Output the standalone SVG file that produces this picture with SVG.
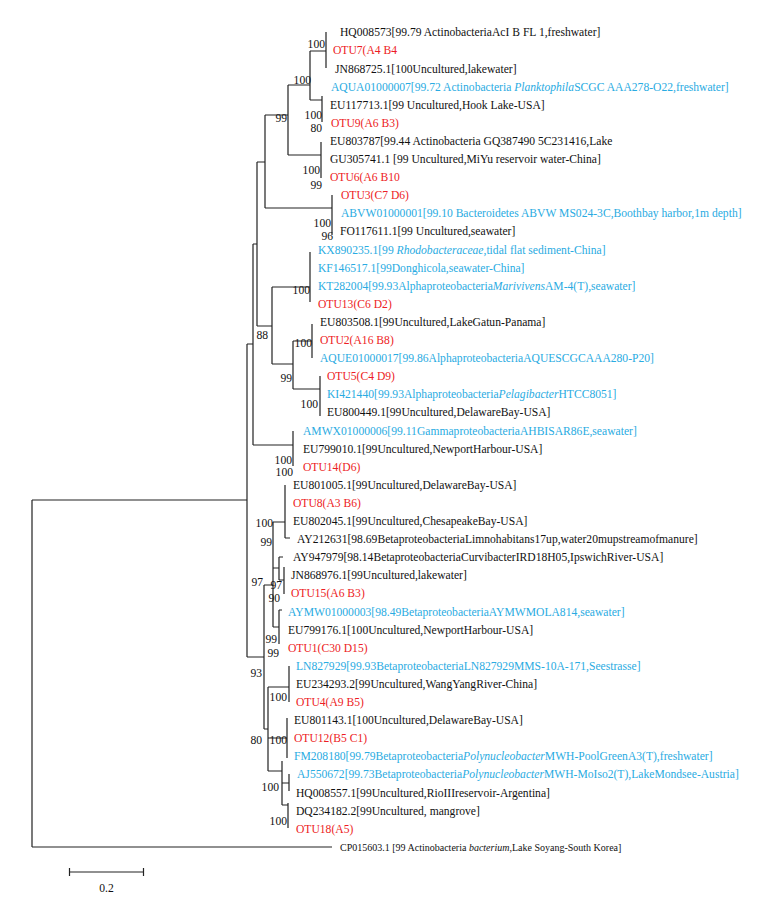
<svg xmlns="http://www.w3.org/2000/svg" width="765" height="899" viewBox="0 0 765 899">
<style>
text{font-family:"Liberation Serif","Times New Roman",serif;font-size:11.6px;fill:#111}
.r{fill:#ED1C24}
.b{fill:#29ABE2}
.i{font-style:italic}
.bs{text-anchor:end}
.sm{font-size:10px}
#tree path{fill:none;stroke:#222;stroke-width:1.2}
</style>
<rect width="765" height="899" fill="#fff"/>
<g id="tree">
<path d="M32 500V847M32 500H247M32 847H332"/>
<path d="M326 32V68M310 51H326"/>
<path d="M310 51V100M288 85H310"/>
<path d="M322 96V122M310 100H322"/>
<path d="M288 85V155M265 115H288"/>
<path d="M321 142V178M288 155H321"/>
<path d="M265 115V208M257 162H265"/>
<path d="M332 195V235M265 208H332"/>
<path d="M257 162V326M253 244H257"/>
<path d="M310 252V302M272 287H310"/>
<path d="M272 287V364M257 326H272"/>
<path d="M312 324V358M293 341H312"/>
<path d="M293 341V389M272 364H293"/>
<path d="M320 376V416M293 389H320"/>
<path d="M253 244V445M247 344H253"/>
<path d="M293 431V466M253 445H293"/>
<path d="M247 344V657"/>
<path d="M264 585V729M247 657H264"/>
<path d="M273 522V627M264 585H273"/>
<path d="M285 485V538M273 522H285M285 538H290"/>
<path d="M279 557V580M279 557H283M273 568H279"/>
<path d="M284 567V594M279 580H284"/>
<path d="M279 610V644M279 610H282M273 627H279"/>
<path d="M268 687V771M264 729H268"/>
<path d="M289 666V702M268 687H289"/>
<path d="M287 718V758M268 738H287"/>
<path d="M282 761V805M268 771H282"/>
<path d="M289 774V791M282 783H289"/>
<path d="M288 803V828M282 805H288"/>
</g>
<g id="bootstrap" class="bs">
<text class="bs" x="325" y="48">100</text>
<text class="bs" x="311" y="84">100</text>
<text class="bs" x="287" y="122">99</text>
<text class="bs" x="322" y="119">100</text>
<text class="bs" x="322" y="132">80</text>
<text class="bs" x="320" y="174">100</text>
<text class="bs" x="322" y="189">99</text>
<text class="bs" x="331" y="227">100</text>
<text class="bs" x="333" y="240">96</text>
<text class="bs" x="310" y="294">100</text>
<text class="bs" x="268" y="339">88</text>
<text class="bs" x="312" y="347">100</text>
<text class="bs" x="292" y="382">99</text>
<text class="bs" x="318" y="408">100</text>
<text class="bs" x="292" y="464">100</text>
<text class="bs" x="293" y="476">100</text>
<text class="bs" x="273" y="527">100</text>
<text class="bs" x="272" y="546">99</text>
<text class="bs" x="263" y="586">97</text>
<text class="bs" x="282" y="589">97</text>
<text class="bs" x="280" y="602">90</text>
<text class="bs" x="277" y="643">99</text>
<text class="bs" x="279" y="657">99</text>
<text class="bs" x="262" y="677">93</text>
<text class="bs" x="287" y="701">100</text>
<text class="bs" x="262" y="744">80</text>
<text class="bs" x="287" y="744">100</text>
<text class="bs" x="279" y="791">100</text>
<text class="bs" x="287" y="825">100</text>
</g>
<g id="n1"><text x="340" y="36.3">HQ008573[99.79 ActinobacteriaAcI B FL 1,freshwater]</text></g>
<g id="n2"><text class="r" x="333" y="54.4">OTU7(A4 B4</text></g>
<g id="n3"><text x="335" y="72.5">JN868725.1[100Uncultured,lakewater]</text></g>
<g id="n4"><text class="b" x="331" y="90.6">AQUA01000007[99.72 Actinobacteria <tspan class="i">Planktophila</tspan>SCGC AAA278-O22,freshwater]</text></g>
<g id="n5"><text x="330" y="108.7">EU117713.1[99 Uncultured,Hook Lake-USA]</text></g>
<g id="n6"><text class="r" x="331" y="126.8">OTU9(A6 B3)</text></g>
<g id="n7"><text x="330" y="144.9">EU803787[99.44 Actinobacteria GQ387490 5C231416,Lake</text></g>
<g id="n8"><text x="330" y="163">GU305741.1 [99 Uncultured,MiYu reservoir water-China]</text></g>
<g id="n9"><text class="r" x="330" y="181.1">OTU6(A6 B10</text></g>
<g id="n10"><text class="r" x="341" y="199.2">OTU3(C7 D6)</text></g>
<g id="n11"><text class="b" x="341" y="217.3">ABVW01000001[99.10 Bacteroidetes ABVW MS024-3C,Boothbay harbor,1m depth]</text></g>
<g id="n12"><text x="340" y="235.4">FO117611.1[99 Uncultured,seawater]</text></g>
<g id="n13"><text class="b" x="318" y="253.5">KX890235.1[99 <tspan class="i">Rhodobacteraceae</tspan>,tidal flat sediment-China]</text></g>
<g id="n14"><text class="b" x="318" y="271.6">KF146517.1[99Donghicola,seawater-China]</text></g>
<g id="n15"><text class="b" x="318" y="289.7">KT282004[99.93Alphaproteobacteria<tspan class="i">Marivivens</tspan>AM-4(T),seawater]</text></g>
<g id="n16"><text class="r" x="318" y="307.8">OTU13(C6 D2)</text></g>
<g id="n17"><text x="320" y="325.9">EU803508.1[99Uncultured,LakeGatun-Panama]</text></g>
<g id="n18"><text class="r" x="320" y="344">OTU2(A16 B8)</text></g>
<g id="n19"><text class="b" x="320" y="362.1">AQUE01000017[99.86AlphaproteobacteriaAQUESCGCAAA280-P20]</text></g>
<g id="n20"><text class="r" x="327" y="380.2">OTU5(C4 D9)</text></g>
<g id="n21"><text class="b" x="327" y="398.3">KI421440[99.93Alphaproteobacteria<tspan class="i">Pelagibacter</tspan>HTCC8051]</text></g>
<g id="n22"><text x="327" y="416.4">EU800449.1[99Uncultured,DelawareBay-USA]</text></g>
<g id="n23"><text class="b" x="303" y="434.5">AMWX01000006[99.11GammaproteobacteriaAHBISAR86E,seawater]</text></g>
<g id="n24"><text x="303" y="452.6">EU799010.1[99Uncultured,NewportHarbour-USA]</text></g>
<g id="n25"><text class="r" x="303" y="470.7">OTU14(D6)</text></g>
<g id="n26"><text x="293" y="488.8">EU801005.1[99Uncultured,DelawareBay-USA]</text></g>
<g id="n27"><text class="r" x="293" y="506.9">OTU8(A3 B6)</text></g>
<g id="n28"><text x="293" y="525">EU802045.1[99Uncultured,ChesapeakeBay-USA]</text></g>
<g id="n29"><text x="297" y="543.1">AY212631[98.69BetaproteobacteriaLimnohabitans17up,water20mupstreamofmanure]</text></g>
<g id="n30"><text x="293" y="561.2">AY947979[98.14BetaproteobacteriaCurvibacterIRD18H05,IpswichRiver-USA]</text></g>
<g id="n31"><text x="291" y="579.3">JN868976.1[99Uncultured,lakewater]</text></g>
<g id="n32"><text class="r" x="291" y="597.4">OTU15(A6 B3)</text></g>
<g id="n33"><text class="b" x="288" y="615.5">AYMW01000003[98.49BetaproteobacteriaAYMWMOLA814,seawater]</text></g>
<g id="n34"><text x="288" y="633.6">EU799176.1[100Uncultured,NewportHarbour-USA]</text></g>
<g id="n35"><text class="r" x="288" y="651.7">OTU1(C30 D15)</text></g>
<g id="n36"><text class="b" x="296" y="669.8">LN827929[99.93BetaproteobacteriaLN827929MMS-10A-171,Seestrasse]</text></g>
<g id="n37"><text x="296" y="687.9">EU234293.2[99Uncultured,WangYangRiver-China]</text></g>
<g id="n38"><text class="r" x="296" y="706">OTU4(A9 B5)</text></g>
<g id="n39"><text x="294" y="724.1">EU801143.1[100Uncultured,DelawareBay-USA]</text></g>
<g id="n40"><text class="r" x="294" y="742.2">OTU12(B5 C1)</text></g>
<g id="n41"><text class="b" x="294" y="760.3">FM208180[99.79Betaproteobacteria<tspan class="i">Polynucleobacter</tspan>MWH-PoolGreenA3(T),freshwater]</text></g>
<g id="n42"><text class="b" x="297" y="778.4">AJ550672[99.73Betaproteobacteria<tspan class="i">Polynucleobacter</tspan>MWH-MoIso2(T),LakeMondsee-Austria]</text></g>
<g id="n43"><text x="296" y="796.5">HQ008557.1[99Uncultured,RioIIIreservoir-Argentina]</text></g>
<g id="n44"><text x="296" y="814.6">DQ234182.2[99Uncultured, mangrove]</text></g>
<g id="n45"><text class="r" x="296" y="832.7">OTU18(A5)</text></g>
<g id="n46"><text class="sm" x="340" y="850.5">CP015603.1 [99 Actinobacteria <tspan class="i">bacterium</tspan>,Lake Soyang-South Korea]</text></g>
<g id="scale">
<path d="M69.5 872H143.5M69.5 868V876M143.5 868V876" fill="none" stroke="#222" stroke-width="1.2"/>
<text x="106.5" y="892" text-anchor="middle">0.2</text>
</g>
</svg>
